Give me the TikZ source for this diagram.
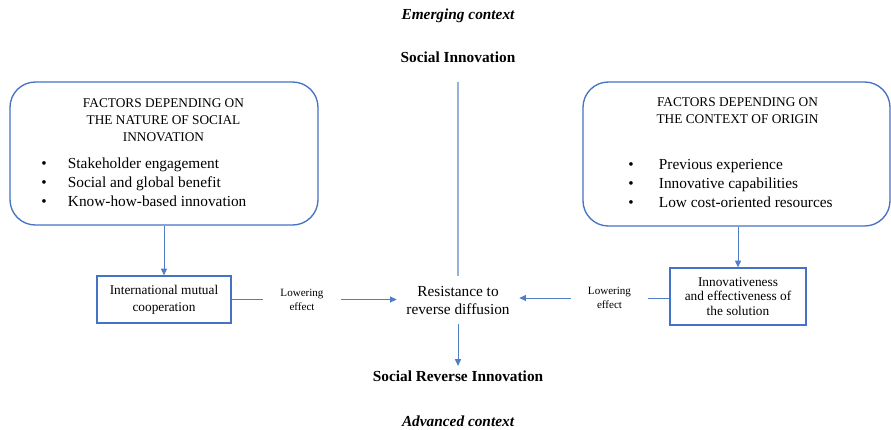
\documentclass[tikz,border=0pt]{standalone}
\usepackage{fontspec}
\setmainfont{Liberation Serif}
\usetikzlibrary{arrows.meta}
\definecolor{frameblue}{RGB}{68,114,196}
\definecolor{linkblue}{RGB}{80,125,200}
\definecolor{paleblue}{RGB}{150,175,220}
\newcommand{\fsz}[2]{\fontsize{#1}{#2}\selectfont}
\begin{document}
\begin{tikzpicture}[x=0.75pt,y=-0.75pt,
  bigbox/.style={draw=frameblue,line width=1pt,rounded corners=19pt,inner sep=0pt},
  smallbox/.style={draw=frameblue,line width=1pt,inner sep=0pt,align=center,font=\fsz{10}{12.75}},
  heading/.style={font=\bfseries\fsz{11.5}{14}},
  context/.style={font=\bfseries\itshape\fsz{11.5}{14}},
  boxtitle/.style={align=center,font=\fsz{10}{12.75}},
  bullets/.style={align=left,inner sep=0pt,anchor=west,font=\fsz{11.5}{14.25}},
  effect/.style={align=center,inner sep=0pt,font=\fsz{8.3}{10.5}},
  link/.style={draw=linkblue,line width=0.7pt},
  arr/.style={link,-{Triangle[length=5pt,width=4.5pt]}}]
\useasboundingbox (0,0) rectangle (891,429);

% top and bottom labels
\node[context] (emerg) at (458,16) {Emerging context};
\node[heading] (soc) at (458,57) {Social Innovation};
\node[heading] (sri) at (458,376) {Social Reverse Innovation};
\node[context] (adv) at (458,421) {Advanced context};

% left factor block
\node[bigbox,minimum width=231pt,minimum height=107.25pt] (lbox) at (164,153.5) {};
\node[boxtitle] (ltitle) at (163.5,120) {FACTORS DEPENDING ON\\THE NATURE OF SOCIAL\\INNOVATION};
\node[bullets] (llist) at (41,182) {%
  \makebox[20pt][l]{\textbullet}Stakeholder engagement\\
  \makebox[20pt][l]{\textbullet}Social and global benefit\\
  \makebox[20pt][l]{\textbullet}Know-how-based innovation};

% right factor block
\node[bigbox,minimum width=230.25pt,minimum height=108pt] (rbox) at (736.5,154) {};
\node[boxtitle] (rtitle) at (737.5,111) {FACTORS DEPENDING ON\\THE CONTEXT OF ORIGIN};
\node[bullets] (rlist) at (628,183.5) {%
  \makebox[23pt][l]{\textbullet}Previous experience\\
  \makebox[23pt][l]{\textbullet}Innovative capabilities\\
  \makebox[23pt][l]{\textbullet}Low cost-oriented resources};

% outcome boxes
\node[smallbox,minimum width=100.5pt,minimum height=35.25pt] (intl) at (164,299.5)
  {International mutual\\cooperation};
\node[smallbox,minimum width=102pt,minimum height=42.75pt,font=\fsz{10}{11}] (innov) at (738,296.5)
  {Innovativeness\\and effectiveness of\\the solution};

% centre
\node[align=center,inner sep=0pt,minimum width=91.5pt,minimum height=36pt,font=\fsz{11.5}{13.5}] (resist) at (458,300)
  {Resistance to\\reverse diffusion};
\node[effect,minimum width=58.5pt] (lowl) at (302,300) {Lowering\\effect};
\node[effect,minimum width=57.75pt] (lowr) at (609.5,298) {Lowering\\effect};

% connectors
\draw[arr] (lbox.south) -- (intl.north);
\draw[arr] (rbox.south -| innov.north) -- (innov.north);
\draw[link] (intl.east) -- (lowl.west |- intl.east);
\draw[arr] (lowl.east |- intl.east) -- (resist.west |- intl.east);
\draw[link] (innov.west |- lowr.east) -- (lowr.east);
\draw[arr] (lowr.west) -- (resist.east |- lowr.west);
\draw[draw=paleblue,line width=0.8pt,shorten <=11pt] (soc.south) -- (resist.north);
\draw[arr] (resist.south) -- (sri.north);
\end{tikzpicture}
\end{document}
